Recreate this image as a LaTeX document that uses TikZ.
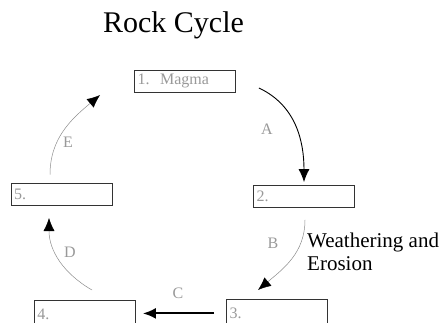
\documentclass[tikz,border=0pt]{standalone}
\usepackage{fontspec}
\setmainfont{Liberation Serif}
\usetikzlibrary{arrows.meta, positioning}

\begin{document}
\begin{tikzpicture}[x=1pt, y=1pt,
    stagebox/.style={draw=black!80, line width=0.8pt, minimum width=101pt, minimum height=22pt,
      inner sep=3pt, text width=95pt, align=left, text=black!40, font=\fontsize{16}{18}\selectfont},
    steplabel/.style={text=black!40, font=\fontsize{16}{18}\selectfont},
    thinarr/.style={draw=black!45, line width=0.5pt, -{Latex[length=13pt, width=11pt, color=black]}},
    blackarr/.style={draw=black, line width=0.9pt, -{Latex[length=13pt, width=11pt]}},
    boldarr/.style={draw=black, line width=2pt, -{Latex[length=13pt, width=11pt]}}]
  \clip (0,0) rectangle (445,322);
  \node[anchor=base, font=\fontsize{30}{36}\selectfont] (title) at (173.5,289) {Rock Cycle};
  \node[stagebox] (magma) at (185,241) {1.\ \ Magma};
  \node[stagebox] (rock2) at (304,125.5) {2.};
  \node[stagebox, text depth=0pt, text height=9pt, inner ysep=2pt, anchor=south] (rock5) at (61.5,116) {5.};
  \node[stagebox, anchor=north, minimum height=28pt] (rock3) at (277,23) {3.};
  \node[stagebox, anchor=north, minimum height=28pt] (rock4) at (85,22) {4.};
  \node[anchor=base west, align=left, inner sep=0pt, font=\fontsize{21}{23}\selectfont] (weather) at (307,52)
    {Weathering and\\Erosion};
  \draw[blackarr] ([shift={(23,-7)}]magma.east) to[out=-25, in=90] ([yshift=3pt]rock2.north);
  \draw[thinarr] ([shift={(1,-12)}]rock2.south) to[out=-90, in=40] ([shift={(-19,9)}]rock3.north);
  \draw[boldarr] ([xshift=-12pt]rock3.west) -- ([xshift=7pt]rock3.west -| rock4.east);
  \draw[thinarr] ([shift={(7,10)}]rock4.north) to[out=150, in=-90] ([shift={(-12.5,-12)}]rock5.south);
  \draw[thinarr] ([shift={(-11.5,8.5)}]rock5.north) to[out=90, in=-140] ([shift={(-34,-14)}]magma.west);
  \node[steplabel] (labA) at (267,193) {A};
  \node[steplabel] (labB) at (273,79) {B};
  \node[steplabel] (labC) at (178,29) {C};
  \node[steplabel] (labD) at (70,70) {D};
  \node[steplabel] (labE) at (68,180) {E};
\end{tikzpicture}
\end{document}
